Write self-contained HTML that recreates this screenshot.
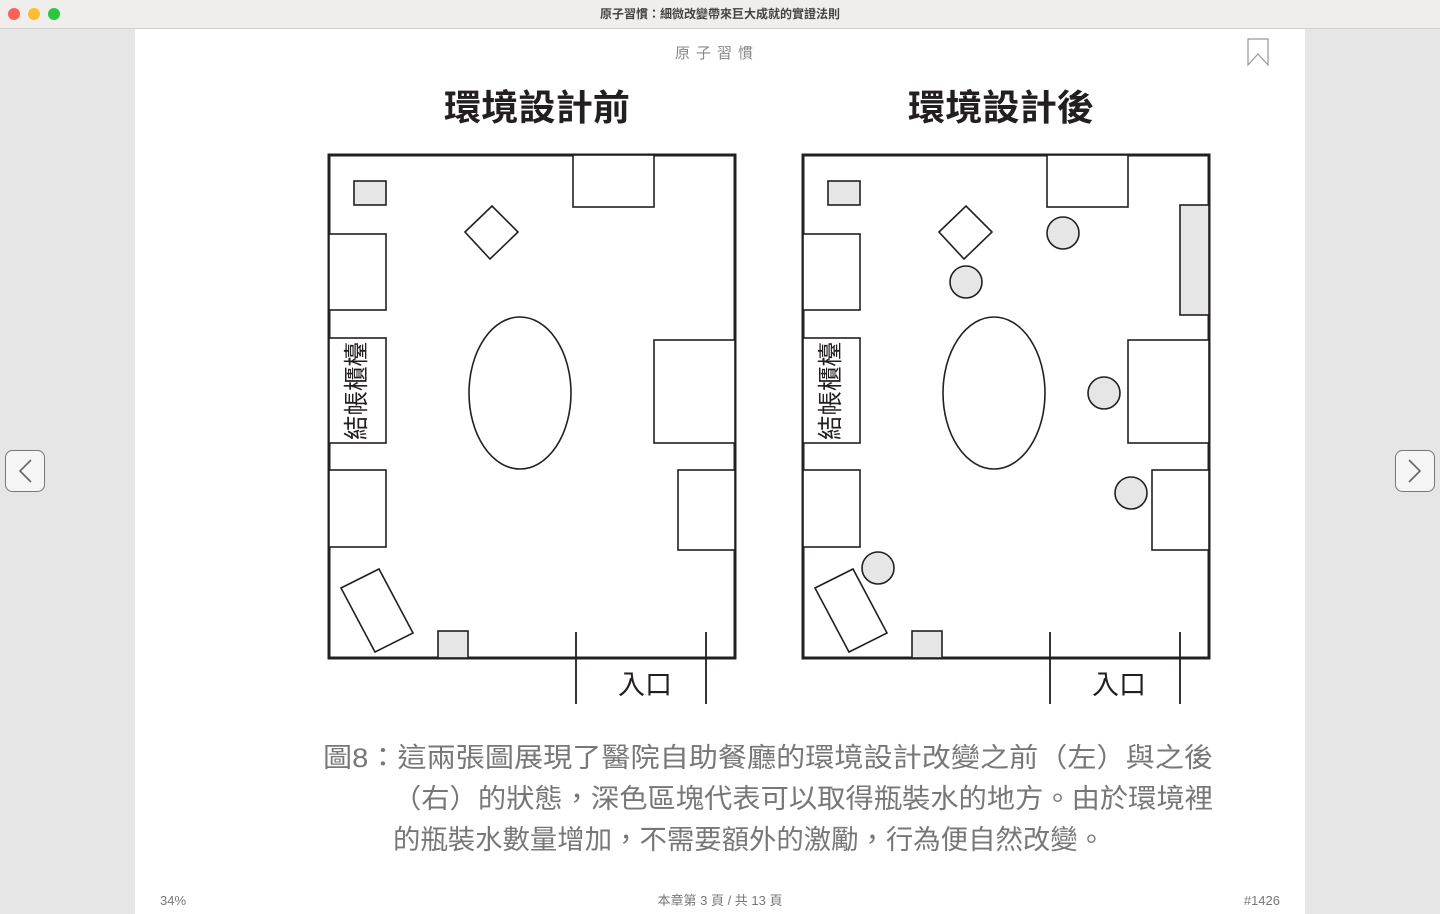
<!DOCTYPE html>
<html><head><meta charset="utf-8">
<style>
html,body{margin:0;padding:0;width:1440px;height:914px;overflow:hidden;background:#e6e6e6;font-family:"Liberation Sans","Noto Sans CJK TC",sans-serif}
svg{position:absolute;left:0;top:0}
</style></head><body>
<svg width="1440" height="914" viewBox="0 0 1440 914" xmlns="http://www.w3.org/2000/svg" font-family="Liberation Sans, Noto Sans CJK TC, sans-serif">
<defs>
<g id="room">
  <rect x="329" y="155" width="406" height="503" fill="#fff" stroke="#231f20" stroke-width="3"/>
  <g stroke="#231f20" stroke-width="1.6" fill="#fff">
    <rect x="354" y="181" width="32" height="24" fill="#e6e6e6"/>
    <rect x="329" y="234" width="57" height="76"/>
    <rect x="329" y="338" width="57" height="105"/>
    <rect x="329" y="470" width="57" height="77"/>
    <polygon points="341,588 379,569 413,633 375,652"/>
    <rect x="438" y="631" width="30" height="27" fill="#e6e6e6"/>
    <polygon points="465,232 492,206 518,232 490,259"/>
    <rect x="573" y="155" width="81" height="52"/>
    <rect x="654" y="340" width="81" height="103"/>
    <rect x="678" y="470" width="57" height="80"/>
    <ellipse cx="520" cy="393" rx="51" ry="76"/>
  </g>
  <line x1="576" y1="632" x2="576" y2="704" stroke="#231f20" stroke-width="1.8"/>
  <line x1="706" y1="632" x2="706" y2="704" stroke="#231f20" stroke-width="1.8"/>
  <text x="645" y="694" font-size="27" text-anchor="middle" fill="#231f20">入口</text>
  <text transform="translate(365,391) rotate(-90)" font-size="25" text-anchor="middle" fill="#231f20" textLength="98" lengthAdjust="spacingAndGlyphs">結帳櫃檯</text>
</g>
</defs>
<!-- title bar -->
<rect x="0" y="0" width="1440" height="28" fill="#efeeed"/>
<line x1="0" y1="28.5" x2="1440" y2="28.5" stroke="#d0d0d0"/>
<circle cx="14" cy="14" r="6" fill="#fe5f57"/>
<circle cx="34" cy="14" r="6" fill="#febc2e"/>
<circle cx="54" cy="14" r="6" fill="#28c840"/>
<text x="720" y="18" font-size="12" font-weight="bold" text-anchor="middle" fill="#444">原子習慣：細微改變帶來巨大成就的實證法則</text>
<!-- page -->
<rect x="135" y="29" width="1170" height="885" fill="#fff"/>
<text x="717" y="58" font-size="15" text-anchor="middle" fill="#888" letter-spacing="6">原子習慣</text>
<path d="M1248,39 H1268 V65 L1258,54 L1248,65 Z" fill="none" stroke="#999" stroke-width="1.2"/>
<!-- nav buttons -->
<rect x="5.5" y="450.5" width="39" height="41" rx="7" fill="#f5f5f5" stroke="#777"/>
<path d="M31,460 L20,471 L31,482" fill="none" stroke="#666" stroke-width="1.6"/>
<rect x="1395.5" y="450.5" width="39" height="41" rx="7" fill="#f5f5f5" stroke="#777"/>
<path d="M1409,460 L1420,471 L1409,482" fill="none" stroke="#666" stroke-width="1.6"/>
<!-- titles -->
<text x="537" y="120" font-size="36" font-weight="bold" text-anchor="middle" fill="#231f20" textLength="186" lengthAdjust="spacingAndGlyphs">環境設計前</text>
<text x="1001" y="120" font-size="36" font-weight="bold" text-anchor="middle" fill="#231f20" textLength="186" lengthAdjust="spacingAndGlyphs">環境設計後</text>
<use href="#room"/>
<g transform="translate(474,0)"><use href="#room"/>
  <g stroke="#231f20" stroke-width="1.6" fill="#e6e6e6">
    <rect x="706" y="205" width="29" height="110"/>
    <circle cx="589" cy="233" r="16"/>
    <circle cx="492" cy="282" r="16"/>
    <circle cx="630" cy="393" r="16"/>
    <circle cx="657" cy="493" r="16"/>
    <circle cx="404" cy="568" r="16"/>
  </g>
</g>
<!-- caption -->
<g font-size="27" fill="#777">
<text x="323" y="767" textLength="890" lengthAdjust="spacingAndGlyphs">圖8：這兩張圖展現了醫院自助餐廳的環境設計改變之前（左）與之後</text>
<text x="393" y="808" textLength="820" lengthAdjust="spacingAndGlyphs">（右）的狀態，深色區塊代表可以取得瓶裝水的地方。由於環境裡</text>
<text x="393" y="849" textLength="712" lengthAdjust="spacingAndGlyphs">的瓶裝水數量增加，不需要額外的激勵，行為便自然改變。</text>
</g>
<!-- footer -->
<text x="160" y="905" font-size="13" fill="#777">34%</text>
<text x="720" y="905" font-size="13" text-anchor="middle" fill="#777">本章第 3 頁 / 共 13 頁</text>
<text x="1280" y="905" font-size="13" text-anchor="end" fill="#777">#1426</text>
</svg>
</body></html>
